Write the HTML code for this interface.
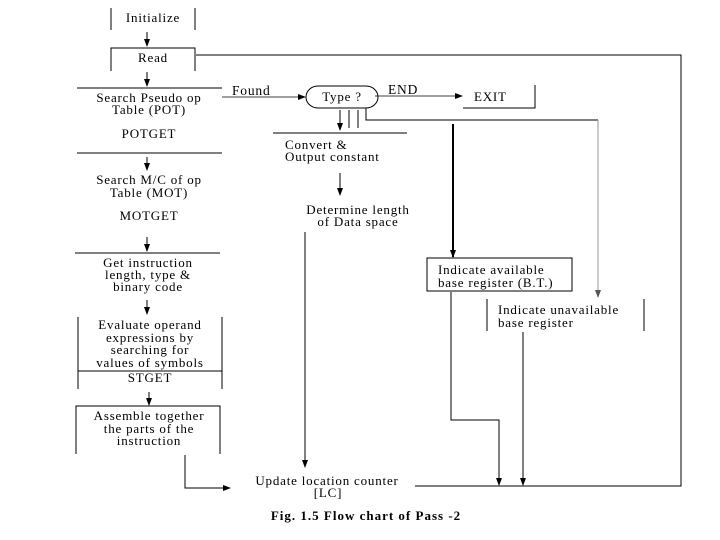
<!DOCTYPE html>
<html><head><meta charset="utf-8"><style>body{margin:0;background:#fff}svg{display:block}</style></head><body>
<svg width="720" height="540" xmlns="http://www.w3.org/2000/svg" font-family="Liberation Serif, serif" font-size="13" letter-spacing="0.8" fill="#000">
<defs><marker id="a" markerWidth="8" markerHeight="8" refX="7" refY="4" orient="auto" markerUnits="userSpaceOnUse"><path d="M0,1 L8,4 L0,7z" fill="#000"/></marker>
<marker id="g" markerWidth="8" markerHeight="8" refX="7" refY="4" orient="auto" markerUnits="userSpaceOnUse"><path d="M0,1 L8,4 L0,7z" fill="#555"/></marker></defs>
<g stroke="#000" stroke-width="1" fill="none">
<path d="M111,8V30M195,8V30"/>
<path d="M147,32V46" marker-end="url(#a)"/>
<path d="M111,71V48H195V71"/>
<path d="M196,55H681V486H415"/>
<path d="M147,72V86" marker-end="url(#a)"/>
<path d="M77,88H222M77,153H222"/>
<path d="M222,97H305" marker-end="url(#a)" stroke-width="0.7"/>
<path d="M318,86H366A12,11 0 0 1 366,108H318A12,11 0 0 1 318,86Z"/>
<path d="M375,96H462" marker-end="url(#a)" stroke-width="0.7"/>
<path d="M463,108H535V85"/>
<path d="M366,108V120H598"/>
<path d="M598,120V297" stroke="#999" marker-end="url(#g)"/>
<path d="M340,110V130" marker-end="url(#a)"/>
<path d="M349,110V128M358,110V128"/>
<path d="M273,133H407"/>
<path d="M340,173V195" marker-end="url(#a)"/>
<path d="M305,232V467" marker-end="url(#a)"/>
<path d="M453,124V257" stroke-width="2" marker-end="url(#a)"/>
<path d="M427,258H572V291H427Z"/>
<path d="M451,292V420H499V485" marker-end="url(#a)"/>
<path d="M487,299V331M644,299V331"/>
<path d="M523,332V485" marker-end="url(#a)"/>
<path d="M147,157V170" marker-end="url(#a)"/>
<path d="M147,237V251" marker-end="url(#a)"/>
<path d="M75,253H220"/>
<path d="M147,300V314" marker-end="url(#a)"/>
<path d="M78,317V389M222,317V389M78,371H222"/>
<path d="M149,392V405" marker-end="url(#a)"/>
<path d="M76,454V406H220V454"/>
<path d="M185,455V488H230" marker-end="url(#a)"/>
</g>
<g text-anchor="middle">
<text x="153" y="22">Initialize</text>
<text x="153" y="62">Read</text>
<text x="149" y="102">Search Pseudo op</text>
<text x="149" y="114">Table (POT)</text>
<text x="149" y="138">POTGET</text>
<text x="149" y="184">Search M/C of op</text>
<text x="149" y="197">Table (MOT)</text>
<text x="149" y="220">MOTGET</text>
<text x="148" y="267">Get instruction</text>
<text x="148" y="279">length, type &amp;</text>
<text x="148" y="291">binary code</text>
<text x="150" y="329">Evaluate operand</text>
<text x="150" y="342">expressions by</text>
<text x="150" y="354">searching for</text>
<text x="150" y="367">values of symbols</text>
<text x="150" y="382">STGET</text>
<text x="149" y="420">Assemble together</text>
<text x="149" y="433">the parts of the</text>
<text x="149" y="445">instruction</text>
<text x="342" y="101">Type ?</text>
<text x="358" y="214">Determine length</text>
<text x="358" y="226">of Data space</text>
<text x="327" y="485">Update location counter</text>
<text x="328" y="497">[LC]</text>
<text x="366" y="520" font-weight="bold" letter-spacing="1">Fig. 1.5 Flow chart of Pass -2</text>
</g>
<text x="232" y="95" font-size="13.5">Found</text>
<text x="388" y="94" font-size="13.5">END</text>
<text x="474" y="101">EXIT</text>
<text x="285" y="149">Convert &amp;</text>
<text x="285" y="161">Output constant</text>
<text x="438" y="274">Indicate available</text>
<text x="438" y="287">base register (B.T.)</text>
<text x="498" y="314">Indicate unavailable</text>
<text x="498" y="327">base register</text>
</svg>
</body></html>
